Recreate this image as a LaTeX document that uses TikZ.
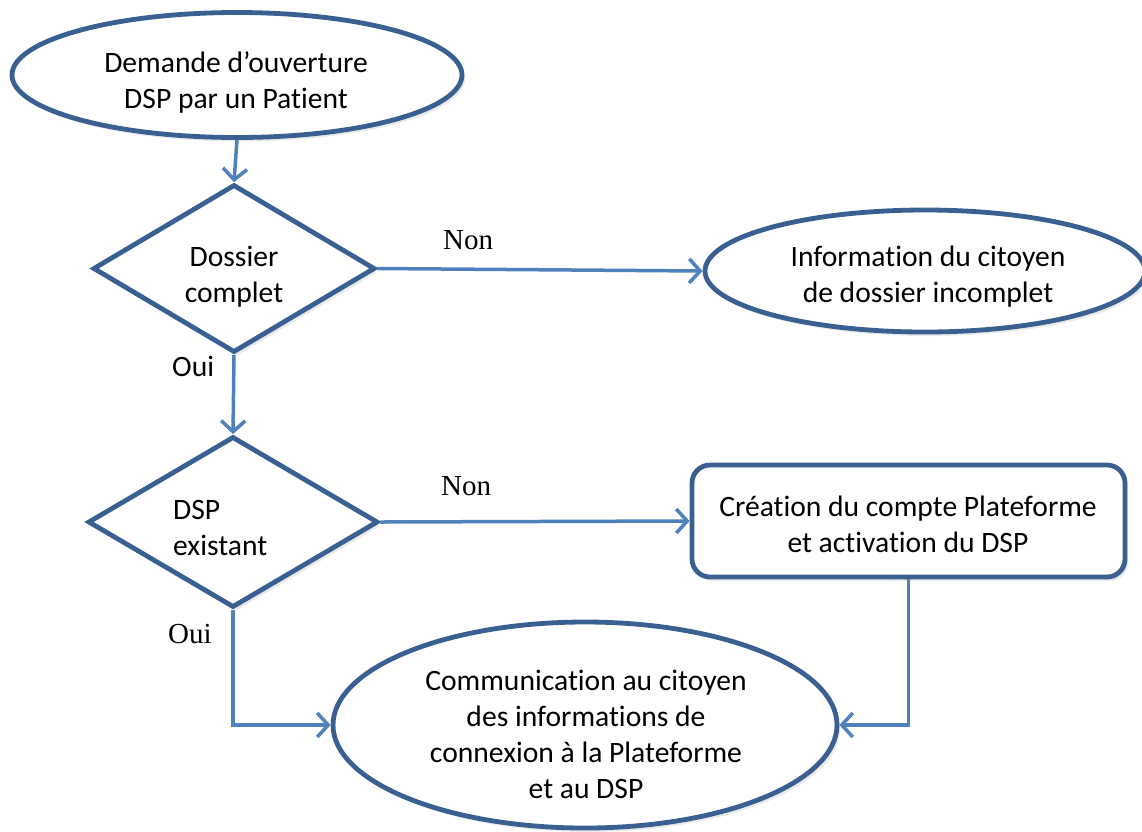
\documentclass[tikz,border=0pt]{standalone}
\usepackage{fontspec}
\setmainfont{Carlito}[Ligatures=NoCommon]
\newfontfamily\serifname{Liberation Serif}
\usetikzlibrary{shapes.geometric,arrows.meta,shadows}
\definecolor{shapeblue}{RGB}{58,96,146}
\definecolor{linkblue}{RGB}{79,129,189}
\begin{document}
\begin{tikzpicture}[x=1pt,y=-1pt,
  box/.style={draw=shapeblue, line width=4.8pt, fill=white, inner sep=0pt,
    drop shadow={shadow xshift=3pt, shadow yshift=-4pt, opacity=0.18, fill=black!45}},
  oval/.style={box, ellipse},
  decision/.style={box, diamond},
  process/.style={box, rectangle, rounded corners=18pt},
  txt/.style={font=\fontsize{29.6}{36}\selectfont, align=center, anchor=base, inner sep=0pt},
  ltxt/.style={font=\fontsize{29.6}{36}\selectfont, align=left, anchor=base west, inner sep=0pt},
  lbl/.style={font=\serifname\fontsize{29}{36}\selectfont, anchor=base west, inner sep=0pt},
  slbl/.style={font=\fontsize{29.6}{36}\selectfont, anchor=base west, inner sep=0pt},
  link/.style={draw=linkblue, line width=3.5pt, -{Straight Barb[length=11pt,width=24pt]}}
]
\useasboundingbox (0,0) rectangle (1142,831);

% shapes
\node[oval, minimum width=450pt, minimum height=125pt] (e1) at (237,75) {};
\node[decision, minimum width=282pt, minimum height=168pt] (d1) at (234,268.5) {};
\node[oval, minimum width=440pt, minimum height=122pt] (e2) at (925,271) {};
\node[decision, minimum width=290pt, minimum height=171pt] (d2) at (233,522) {};
\node[process, minimum width=433pt, minimum height=112pt] (r1) at (908.5,521) {};
\node[oval, minimum width=504pt, minimum height=206pt] (e3) at (585,725) {};

% texts (anchor = baseline of last line)
\node[txt] (t1) at (236,108) {Demande d’ouverture\\DSP par un Patient};
\node[txt] (t2) at (234,302) {Dossier\\complet};
\node[txt] (t3) at (928,302) {Information du citoyen\\de dossier incomplet};
\node[ltxt] (t4) at (173,555) {DSP\\existant};
\node[txt] (t5) at (908,552) {Création du compte Plateforme\\et activation du DSP};
\node[txt] (t6) at (586,798) {Communication au citoyen\\des informations de\\connexion à la Plateforme\\et au DSP};

% labels
\node[lbl] (n1) at (443,249) {Non};
\node[lbl] (n2) at (441,495) {Non};
\node[slbl] (o1) at (172,376) {Oui};
\node[lbl] (o2) at (168,643) {Oui};

% connectors
\draw[link] (e1.south) -- (d1.north);
\draw[link] (d1.east) -- (e2.west);
\draw[link] (d1.south) -- (d2.north);
\draw[link] (d2.east) -- (r1.west);
\draw[link] (d2.south) |- (e3.west);
\draw[link] (r1.south) |- (e3.east);
\end{tikzpicture}
\end{document}
